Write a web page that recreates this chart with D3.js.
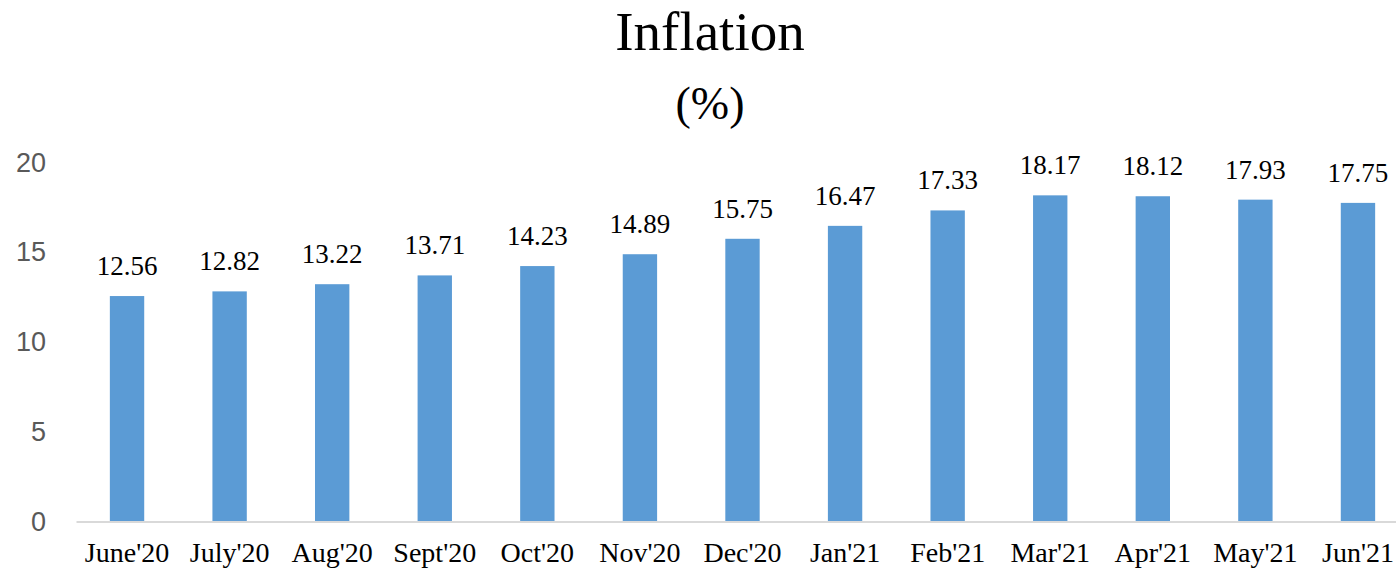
<!DOCTYPE html>
<html lang="en">
<head>
  <meta charset="UTF-8">
  <title>Inflation</title>
  <script src="https://d3js.org/d3.v7.min.js"></script>
  <style>
    body { margin: 0; background: #fff; }
    .title { font-family: "Liberation Serif", serif; fill: #000; text-anchor: middle; }
    .ytick text { font-family: "Liberation Sans", sans-serif; font-size: 27px; fill: #595959; }
    .xtick text { font-family: "Liberation Serif", serif; font-size: 28px; fill: #000; }
    .label { font-family: "Liberation Serif", serif; font-size: 27px; fill: #000; text-anchor: middle; }
  </style>
</head>
<body>
  <div id="chart"></div>
  <script>
    const months = ["June'20", "July'20", "Aug'20", "Sept'20", "Oct'20", "Nov'20", "Dec'20",
                    "Jan'21", "Feb'21", "Mar'21", "Apr'21", "May'21", "Jun'21"];
    const inflation = [12.56, 12.82, 13.22, 13.71, 14.23, 14.89, 15.75, 16.47, 17.33, 18.17, 18.12, 17.93, 17.75];
    const yTicks = [0, 5, 10, 15, 20];

    const dataset = months.map((m, i) => ({ month: m, value: inflation[i] }));

    const width = 1396, height = 575;
    const svg = d3.select("#chart").append("svg")
      .attr("width", width)
      .attr("height", height);

    const x = d3.scaleBand()
      .domain(months)
      .range([76, 1409])
      .paddingInner(0.665)
      .paddingOuter(0.33);

    const y = d3.scaleLinear()
      .domain([0, 20])
      .range([521.5, 162.5]);

    // title
    svg.append("text").attr("class", "title")
      .attr("x", 710).attr("y", 50)
      .style("font-size", "55px")
      .text("Inflation");
    svg.append("text").attr("class", "title")
      .attr("x", 710).attr("y", 119)
      .style("font-size", "46px")
      .text("(%)");

    // y axis labels only
    const yAxis = svg.append("g")
      .attr("class", "ytick")
      .attr("transform", "translate(46,0)")
      .call(d3.axisLeft(y).tickValues(yTicks).tickSize(0).tickPadding(0));
    yAxis.select(".domain").remove();

    // bars
    svg.selectAll(".bar")
      .data(dataset)
      .enter()
      .append("rect")
      .attr("class", "bar")
      .attr("x", d => x(d.month))
      .attr("y", d => y(d.value))
      .attr("width", x.bandwidth())
      .attr("height", d => y(0) - y(d.value))
      .attr("fill", "#5B9BD5");

    // x axis
    const xAxis = svg.append("g")
      .attr("class", "xtick")
      .attr("transform", `translate(0,${y(0)})`)
      .call(d3.axisBottom(x).tickSize(0).tickPadding(21));
    xAxis.select(".domain").attr("stroke", "#d9d9d9").attr("stroke-width", 2);
    xAxis.selectAll("text").attr("dy", "0.71em");

    // value labels
    svg.selectAll(".label")
      .data(dataset)
      .enter()
      .append("text")
      .attr("class", "label")
      .attr("x", d => x(d.month) + x.bandwidth() / 2)
      .attr("y", d => y(d.value) - 21)
      .text(d => d.value.toFixed(2));
  </script>
</body>
</html>
